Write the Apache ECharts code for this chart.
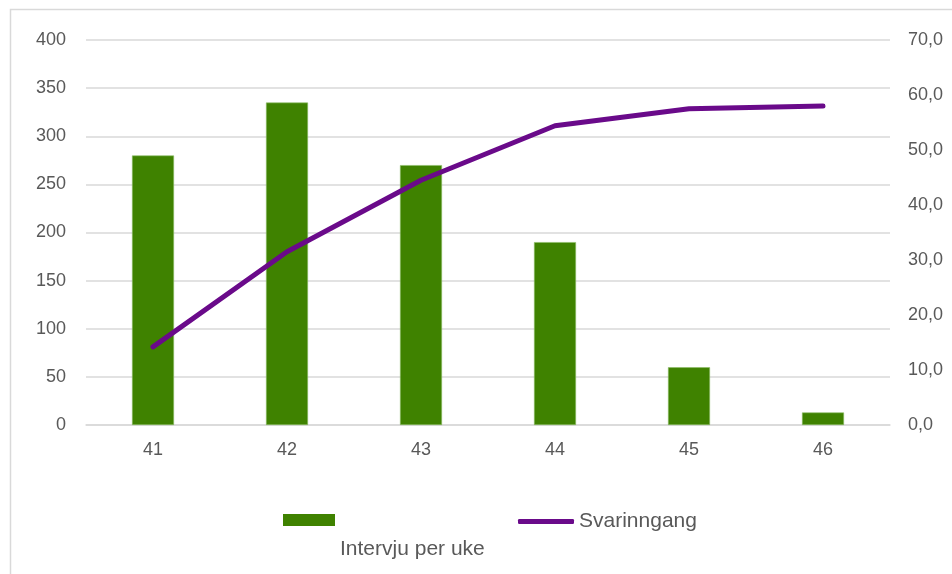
<!DOCTYPE html>
<html>
<head>
<meta charset="utf-8">
<script src="https://cdn.jsdelivr.net/npm/echarts@6/dist/echarts.min.js"></script>
<style>html,body{margin:0;padding:0;background:#fff}#c{width:952px;height:574px}</style>
</head>
<body>
<div id="c"></div>
<script>
const weeks = ['41', '42', '43', '44', '45', '46'];
const interviews = [280, 335, 270, 190, 60, 13];
const responseRate = [14.2, 31.5, 44.5, 54.4, 57.5, 58.0];
const leftTicks = { min: 0, max: 400, interval: 50 };
const rightTicks = { min: 0, max: 70, interval: 10 };

const font = 'Liberation Sans, Arial, sans-serif';
const txt = '#595959';
const chart = echarts.init(document.getElementById('c'));
chart.setOption({
  animation: false,
  backgroundColor: '#fff',
  textStyle: { fontFamily: font },
  graphic: [{
    type: 'rect', shape: { x: 10.5, y: 9.5, width: 1000, height: 700 },
    style: { fill: 'none', stroke: '#d9d9d9', lineWidth: 1.5 }, silent: true
  }],
  grid: { left: 86, right: 62, top: 40, bottom: 149 },
  legend: [{
    data: ['Intervju per uke'], left: 283, top: 462, padding: 0,
    itemWidth: 52, itemHeight: 12,
    icon: 'rect', itemStyle: { borderWidth: 0 },
    formatter: n => '\n' + n,
    textStyle: { color: txt, fontSize: 21, fontFamily: font, lineHeight: 58 }
  }, {
    data: ['Svarinngang'], left: 518, top: 511, padding: 0,
    itemWidth: 56, itemHeight: 5,
    icon: 'roundRect', itemStyle: { color: '#6a0a8a', borderWidth: 0 },
    textStyle: { color: txt, fontSize: 21, fontFamily: font }
  }],
  xAxis: {
    type: 'category', data: weeks,
    axisLine: { lineStyle: { color: '#d9d9d9', width: 1.5 } },
    axisTick: { show: false },
    axisLabel: { color: txt, fontSize: 18, fontFamily: font, margin: 16 }
  },
  yAxis: [{
    type: 'value', min: leftTicks.min, max: leftTicks.max, interval: leftTicks.interval,
    axisLine: { show: false }, axisTick: { show: false },
    axisLabel: { color: txt, fontSize: 18, fontFamily: font, margin: 20 },
    splitLine: { lineStyle: { color: '#d9d9d9', width: 1.5 } }
  }, {
    type: 'value', min: rightTicks.min, max: rightTicks.max, interval: rightTicks.interval,
    axisLine: { show: false }, axisTick: { show: false },
    axisLabel: { color: txt, fontSize: 18, fontFamily: font, margin: 18,
      formatter: v => v.toFixed(1).replace('.', ',') },
    splitLine: { show: false }
  }],
  series: [{
    name: 'Intervju per uke', type: 'bar', data: interviews, yAxisIndex: 0,
    barWidth: 42,
    itemStyle: { color: '#3f8200', borderColor: '#8cbc64', borderWidth: 0.6 }
  }, {
    name: 'Svarinngang', type: 'line', data: responseRate, yAxisIndex: 1,
    symbol: 'none',
    lineStyle: { color: '#6a0a8a', width: 5, cap: 'round', join: 'round' },
    itemStyle: { color: '#6a0a8a' }
  }]
});
</script>
</body>
</html>
